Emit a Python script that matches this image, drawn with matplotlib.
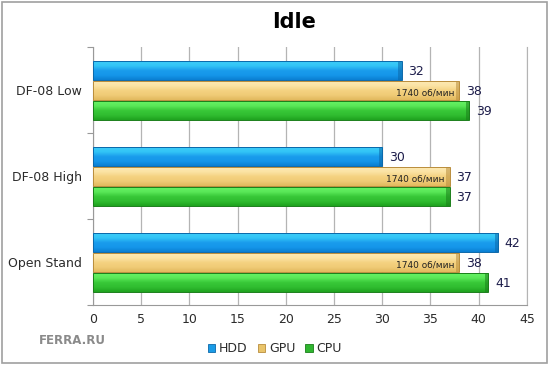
import numpy as np
import matplotlib
matplotlib.use('Agg')
import matplotlib.pyplot as plt
from matplotlib.patches import Rectangle
from matplotlib.colors import LinearSegmentedColormap

# --- Data ---
categories = ['Open Stand', 'DF-08 High', 'DF-08 Low']
hdd = [42, 30, 32]
gpu = [38, 37, 38]
cpu = [41, 37, 39]
gpu_note = '1740 об/мин'
series_names = ['HDD', 'GPU', 'CPU']
x_ticks = [0, 5, 10, 15, 20, 25, 30, 35, 40, 45]

# colours: bottom -> top gradient stops, plus edge colour
COLORS = {
    'HDD': (['#0a7fd2', '#1596ea', '#1a9cec', '#32c4f6', '#3dccf8'], '#0b68aa'),
    'GPU': (['#e2b95e', '#f0cb76', '#f4d281', '#fbe3a4', '#fde9b2'], '#b98d3c'),
    'CPU': (['#1fa21f', '#30bd30', '#38c838', '#5ae858', '#66f264'], '#1a7f1a'),
}
LEGEND_COLORS = {'HDD': '#1a9be6', 'GPU': '#e9c46a', 'CPU': '#2fb52f'}
LABEL_COLOR = '#1c1c4a'
TEXT_COLOR = '#2b2b2b'

BAR_H = 0.22
STEP = 0.233

fig = plt.figure(figsize=(5.5, 3.65), dpi=100)
ax = fig.add_axes([0.169, 0.164, 0.789, 0.707])

y = np.arange(len(categories))
offsets = {'HDD': STEP, 'GPU': 0.0, 'CPU': -STEP}
values = {'HDD': hdd, 'GPU': gpu, 'CPU': cpu}
grad = np.linspace(0, 1, 64).reshape(-1, 1)

for name in series_names:
    stops, edge = COLORS[name]
    cmap = LinearSegmentedColormap.from_list(name, stops)
    ys = y + offsets[name]
    vals = values[name]
    bars = ax.barh(ys, vals, height=BAR_H, facecolor='none', edgecolor=edge,
                   linewidth=0.7, zorder=4)
    for b in bars:
        x0, y0, w, h = b.get_x(), b.get_y(), b.get_width(), b.get_height()
        im = ax.imshow(grad, extent=[x0, x0 + w, y0, y0 + h], origin='lower',
                       aspect='auto', cmap=cmap, zorder=3, interpolation='bilinear')
        im.set_clip_path(b)
        # darker bevel at the bar end
        ax.add_patch(Rectangle((x0 + w - 0.35, y0), 0.35, h, facecolor=edge,
                               edgecolor='none', alpha=0.55, zorder=3.5))
    for yy, v in zip(ys, vals):
        ax.text(v + 0.7, yy - 0.02, str(v), va='center', ha='left', fontsize=9,
                color=LABEL_COLOR, zorder=5)
        if name == 'GPU':
            ax.text(v - 0.5, yy - 0.03, gpu_note, va='center', ha='right', fontsize=6.5,
                    color='#222222', zorder=5)

ax.set_xlim(0, 45)
ax.set_ylim(-0.5, len(categories) - 0.5)
ax.set_xticks(x_ticks)
ax.tick_params(axis='x', length=0, labelsize=9, labelcolor=TEXT_COLOR, pad=6)
ax.set_yticks(y)
ax.set_yticklabels(categories)
ax.tick_params(axis='y', which='major', length=0, labelsize=9, labelcolor=TEXT_COLOR, pad=8)
ax.set_yticks(np.arange(-0.5, len(categories), 1.0), minor=True)
ax.tick_params(axis='y', which='minor', length=4, color='#999999', width=0.8)

ax.grid(axis='x', color='#b4b4b4', linewidth=0.9, zorder=0)
ax.set_axisbelow(True)
ax.spines['top'].set_visible(False)
ax.spines['right'].set_color('#b4b4b4')
ax.spines['left'].set_color('#999999')
ax.spines['bottom'].set_color('#999999')

fig.text(0.535, 0.94, 'Idle', ha='center', va='center', fontsize=15, fontweight='bold',
         color='black')

# legend
handles = [Rectangle((0, 0), 1, 1, facecolor=LEGEND_COLORS[n], edgecolor=COLORS[n][1],
                     linewidth=0.6) for n in series_names]
fig.legend(handles, series_names, loc='center', bbox_to_anchor=(0.5, 0.045), ncol=3,
           frameon=False, fontsize=9, handlelength=0.6, handleheight=0.6,
           handletextpad=0.3, columnspacing=0.8, labelcolor=TEXT_COLOR)

# watermark
fig.text(0.131, 0.068, 'FERRA.RU', ha='center', va='center', fontsize=8.5, fontweight='bold',
         color='#8a8a8a')

# outer frame
fig.patches.append(Rectangle((0.004, 0.006), 0.99, 0.988, transform=fig.transFigure,
                             fill=False, edgecolor='#a0a0a0', linewidth=1.2))

fig.savefig('out.png', dpi=100)
